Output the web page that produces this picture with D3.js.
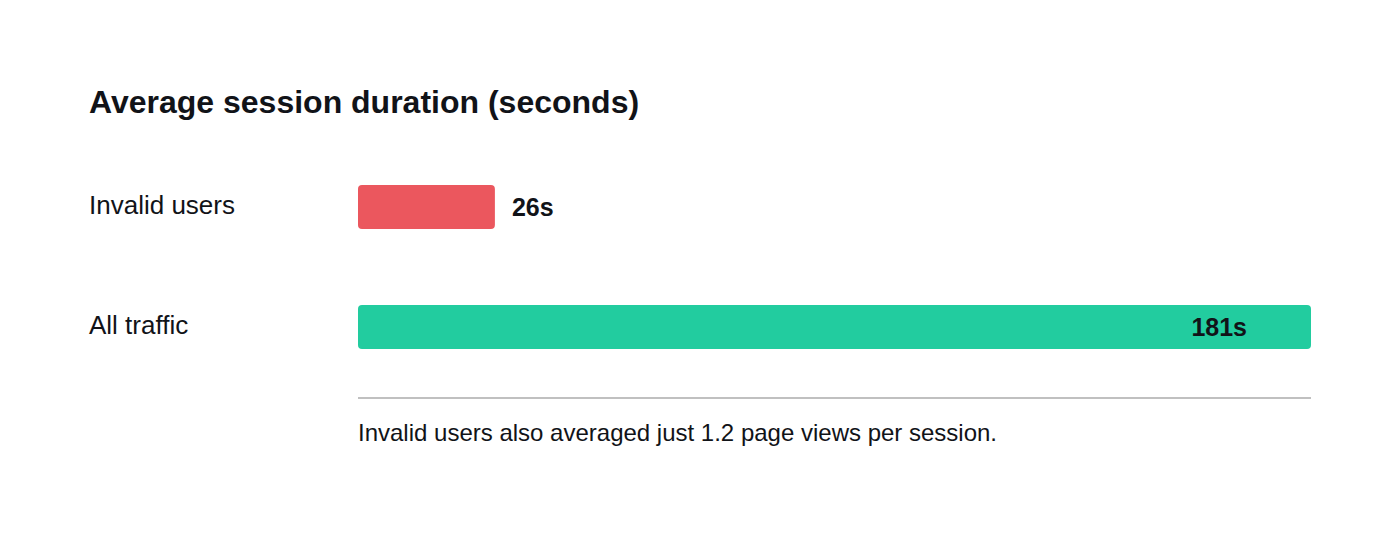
<!DOCTYPE html>
<html><head><meta charset="utf-8">
<script src="https://cdn.jsdelivr.net/npm/d3@7"></script>
<style>
html,body{margin:0;padding:0;background:#fff;}
svg{display:block;font-family:"Liberation Sans",Arial,Helvetica,sans-serif;}
</style></head>
<body>
<svg id="chart" width="1400" height="555"></svg>
<script>
const title = "Average session duration (seconds)";
const categories = ["Invalid users", "All traffic"];
const values = [26, 181];
const valueLabels = ["26s", "181s"];
const barColors = ["#EB575E", "#22CC9F"];
const footnote = "Invalid users also averaged just 1.2 page views per session.";

const svg = d3.select("#chart");
const x = d3.scaleLinear().domain([0, 181]).range([358, 1311]);
const y = d3.scaleBand().domain(categories).range([185, 349]).paddingInner(76 / 120).paddingOuter(0);

svg.append("text").attr("x", 89).attr("y", 113)
  .attr("font-size", 32).attr("font-weight", "bold").attr("fill", "#111318")
  .text(title);

const g = svg.append("g");
categories.forEach((c, i) => {
  const yc = y(c) + y.bandwidth() / 2;
  g.append("text").attr("x", 89).attr("y", yc + 7)
    .attr("font-size", 26).attr("fill", "#111318").text(c);
  g.append("rect").attr("x", x(0)).attr("y", y(c))
    .attr("width", x(values[i]) - x(0)).attr("height", y.bandwidth())
    .attr("rx", 4).attr("fill", barColors[i]);
  const inside = values[i] > 100;
  g.append("text")
    .attr("x", inside ? x(values[i]) - 64 : x(values[i]) + 17)
    .attr("y", yc + 9)
    .attr("text-anchor", inside ? "end" : "start")
    .attr("font-size", 25).attr("font-weight", "bold").attr("fill", "#111318")
    .text(valueLabels[i]);
});

svg.append("line").attr("x1", x(0)).attr("x2", x(181)).attr("y1", 398).attr("y2", 398)
  .attr("stroke", "#c0c0c0").attr("stroke-width", 2);

svg.append("text").attr("x", 358).attr("y", 441)
  .attr("font-size", 24).attr("fill", "#111318").text(footnote);
</script>
</body></html>
